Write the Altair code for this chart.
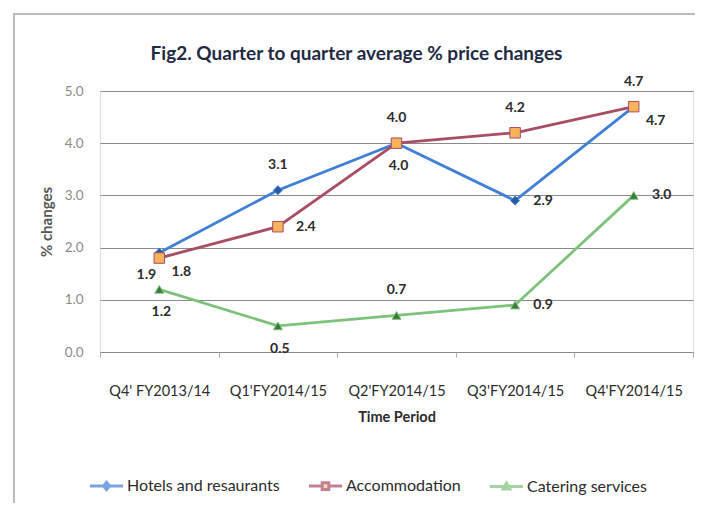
import altair as alt
import pandas as pd

# ---- data ----
periods = ["Q4' FY2013/14", "Q1'FY2014/15", "Q2'FY2014/15", "Q3'FY2014/15", "Q4'FY2014/15"]
series_names = ["Hotels and resaurants", "Accommodation", "Catering services"]
hotels = [1.9, 3.1, 4.0, 2.9, 4.7]
accommodation = [1.8, 2.4, 4.0, 4.2, 4.7]
catering = [1.2, 0.5, 0.7, 0.9, 3.0]

# label placement codes (style only)
hotels_pos = ["below-left", "above", "below", "right", "below-right"]
accommodation_pos = ["below-right", "right", "above", "above", "above"]
catering_pos = ["below", "below", "above", "right", "right"]

line_colors = ["#3f7fd6", "#a94d64", "#7cc27a"]
marker_colors = ["#2a5aa6", "#f5b35a", "#3a7a3a"]
marker_shapes = ["diamond", "square", "triangle-up"]
legend_paths = [
    "M-1,0H1M0,-0.22L0.18,0L0,0.22L-0.18,0Z",
    "M-1,0H-0.2M0.2,0H1M-0.2,-0.2H0.2V0.2H-0.2Z",
    "M-1,0H1M0,-0.2L0.2,0.15L-0.2,0.15Z",
]

rows = []
for name, vals, pos in zip(series_names, [hotels, accommodation, catering],
                           [hotels_pos, accommodation_pos, catering_pos]):
    for i, (p, v, lp) in enumerate(zip(periods, vals, pos)):
        rows.append({"period": p, "idx": i, "series": name, "value": v, "pos": lp})
df = pd.DataFrame(rows)

FONT = "Lato"

x_enc = alt.X("period:N", sort=periods, bandPosition=0.5,
              scale=alt.Scale(type="band", paddingInner=0, paddingOuter=0),
              axis=alt.Axis(title="Time Period", labelAngle=0, tickBand="extent",
                            ticks=True, tickSize=5, tickColor="#aaaaaa", domain=False,
                            grid=False, labelFont=FONT, labelFontSize=14.5, labelColor="#2b2b2b",
                            labelPadding=27, titleFont=FONT, titleFontSize=14.5, titleFontWeight="bold",
                            titleColor="#2b2b2b", titlePadding=13))
y_enc = alt.Y("value:Q", scale=alt.Scale(domain=[0, 5], nice=False),
              axis=alt.Axis(title="% changes", values=[0, 1, 2, 3, 4, 5], format=".1f",
                            domain=False, ticks=False, grid=True, gridColor="#8a8a8a", gridWidth=1,
                            labelFont=FONT, labelFontSize=13.5, labelColor="#8a8a8a", labelPadding=17,
                            titleFont=FONT, titleFontSize=15, titleFontWeight="bold",
                            titleColor="#555555", titlePadding=10))

legend = alt.Legend(title=None, orient="none", direction="horizontal", legendX=-12, legendY=376,
                    labelFont=FONT, labelFontSize=16, labelColor="#2b2b2b",
                    symbolSize=1100, symbolStrokeWidth=3, columnPadding=22, labelOffset=2)

stroke_enc = alt.Stroke("series:N", sort=series_names,
                        scale=alt.Scale(domain=series_names, range=line_colors), legend=legend)
fill_enc = alt.Fill("series:N", sort=series_names,
                    scale=alt.Scale(domain=series_names, range=marker_colors), legend=legend)
shape_enc = alt.Shape("series:N", sort=series_names,
                      scale=alt.Scale(domain=series_names, range=legend_paths), legend=legend)

base = alt.Chart(df)

lines = base.mark_line(strokeWidth=2.8).encode(x=x_enc, y=y_enc, stroke=stroke_enc,
                                                order=alt.Order("idx:Q"))
# empty layer that only carries the legend symbols
legend_layer = base.transform_filter("false").mark_point(filled=True, strokeWidth=3).encode(
    x=x_enc, y=y_enc, fill=fill_enc, stroke=stroke_enc, shape=shape_enc)

point_layers = []
for name, shp in zip(series_names, marker_shapes):
    point_layers.append(
        base.transform_filter(alt.datum.series == name)
        .mark_point(filled=True, shape=shp, size=80 if shp != "square" else 110,
                    strokeWidth=1, opacity=1)
        .encode(x=x_enc, y=y_enc, fill=fill_enc, stroke=stroke_enc)
    )

offsets = {
    "above": (0, -25),
    "below": (2, 23),
    "right": (28, 0),
    "below-left": (-13, 22),
    "below-right": (22, 14),
}
labels = []
for code, (dx, dy) in offsets.items():
    labels.append(
        base.transform_filter(alt.datum.pos == code)
        .mark_text(font=FONT, fontSize=14, fontWeight="bold", color="#2b2b2b",
                   dx=dx, dy=dy, baseline="middle", align="center")
        .encode(x=x_enc, y=y_enc, text=alt.Text("value:Q", format=".1f"))
    )

frame_top = alt.Chart(df).mark_rule(color="#bbbbbb", strokeWidth=1.5).encode(
    x=alt.value(-87), x2=alt.value(600), y=alt.value(-77))
frame_left = alt.Chart(df).mark_rule(color="#bbbbbb", strokeWidth=1.5).encode(
    x=alt.value(-86), y=alt.value(-77), y2=alt.value(420))

chart = alt.layer(frame_top, frame_left, lines, legend_layer, *point_layers, *labels).properties(
    width=593, height=261,
    title=alt.TitleParams("Fig2. Quarter to quarter average % price changes",
                          font=FONT, fontSize=19, fontWeight="bold", color="#1f2a44",
                          anchor="middle", dx=-40, offset=-51, frame="group"),
    autosize=alt.AutoSizeParams(type="none"),
    padding={"left": 92, "top": 83, "right": 2, "bottom": 151},
).configure_view(stroke=None).configure(background="white")

chart.save("out.html", embed_options={"renderer": "svg", "actions": False})
